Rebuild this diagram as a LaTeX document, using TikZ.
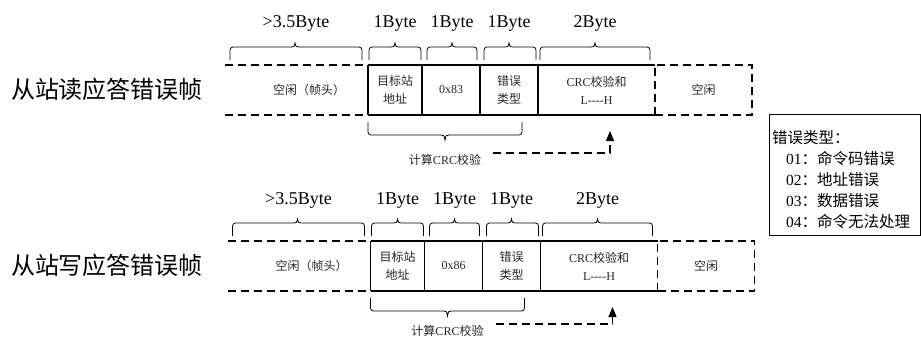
\documentclass[tikz,border=0pt]{standalone}
\usepackage{fontspec}
\setmainfont{Liberation Serif}
\newfontfamily\cjk{Noto Sans CJK SC}
\usetikzlibrary{arrows.meta}

\newcommand\upbrace[3]{%
  \draw[brc, rounded corners=3pt] (#1,60) -- (#1,47) -- (#3-4,47);
  \draw[brc] (#3-4,47) .. controls (#3-1,47) .. (#3,43) .. controls (#3+1,47) .. (#3+4,47);
  \draw[brc, rounded corners=3pt] (#3+4,47) -- (#2,47) -- (#2,60);}
\newcommand\downbrace[3]{%
  \draw[brc, rounded corners=3pt] (#1,122) -- (#1,135) -- (#3-4,135);
  \draw[brc] (#3-4,135) .. controls (#3-1,135) .. (#3,140) .. controls (#3+1,135) .. (#3+4,135);
  \draw[brc, rounded corners=3pt] (#3+4,135) -- (#2,135) -- (#2,122);}

\newcommand\frameRow[5]{%
\begin{scope}[shift={(#3,#4)}]
  % geometry nodes
  \node[fieldbox, minimum width=143pt] (head#1) at (296.5,90) {};
  \node[fieldbox, minimum width=54pt] (addr#1) at (395,90) {};
  \node[fieldbox, minimum width=58pt] (func#1) at (451,90) {};
  \node[fieldbox, minimum width=58pt] (err#1) at (509,90) {};
  \node[fieldbox, minimum width=117pt] (crc#1) at (596.5,90) {};
  \node[fieldbox, minimum width=97pt, draw, dashln] (idle#1) at (703.5,90) {};
  % texts
  \node[fieldtxt] (headt#1) at (309,90) {{\cjk 空闲（帧头）}};
  \node[fieldtxt] at (addr#1) {{\cjk 目标站}\\{\cjk 地址}};
  \node[fieldtxt] at (func#1) {#2};
  \node[fieldtxt] at (err#1) {{\cjk 错误}\\{\cjk 类型}};
  \node[fieldtxt] at (crc#1) {CRC{\cjk 校验和}\\L{-}{-}{-}{-}H};
  \node[fieldtxt] at (idle#1) {{\cjk 空闲}};
  % outlines
  \draw[dashln] (head#1.north west) -- (head#1.north east);
  \draw[dashln] (head#1.south west) -- (head#1.south east);
  \draw[solidln] (addr#1.north west) -- (crc#1.north east);
  \draw[solidln] (addr#1.south west) -- (crc#1.south east);
  \draw[solidln] (addr#1.north west) -- (addr#1.south west);
  \draw[solidln] (func#1.north west) -- (func#1.south west);
  \draw[solidln] (err#1.north west) -- (err#1.south west);
  \draw[solidln] (crc#1.north west) -- (crc#1.south west);
  % byte labels
  \node[bytelab] (lh#1) at (296,28) {>3.5Byte};
  \node[bytelab] (la#1) at (395,28) {1Byte};
  \node[bytelab] (lf#1) at (452,28) {1Byte};
  \node[bytelab] (le#1) at (509,28) {1Byte};
  \node[bytelab] (lc#1) at (595,28) {2Byte};
  % braces
  \upbrace{230}{362}{295}
  \upbrace{369}{421}{395}
  \upbrace{427}{477}{452}
  \upbrace{484}{536}{509}
  \upbrace{540}{650}{595}
  \downbrace{368}{522}{445}
  % crc label and arrow
  \node[fieldtxt] (calc#1) at (445,160-#5) {{\cjk 计算}CRC{\cjk 校验}};
  \coordinate (arrs#1) at (493,153-#5);
  \coordinate (tip#1) at (610,131);
  \draw[dashln, -{Triangle[length=10pt,width=8pt]}] (arrs#1) -| (tip#1);
\end{scope}}

\begin{document}
\begin{tikzpicture}[x=1pt,y=-1pt,
  solidln/.style={line width=1.1pt},
  dashln/.style={line width=1.1pt, dash pattern=on 8pt off 5pt},
  fieldbox/.style={minimum height=50pt, inner sep=0pt, outer sep=0pt},
  fieldtxt/.style={font=\fontsize{12}{18}\selectfont, align=center, inner sep=0pt, text=black!85},
  bytelab/.style={font=\fontsize{18}{20}\selectfont, anchor=base, inner sep=0pt},
  titletxt/.style={font=\cjk\fontsize{24}{28}\selectfont, inner sep=0pt},
  brc/.style={line width=0.8pt},
]
\useasboundingbox (0,0) rectangle (921,337);

\node[titletxt] (title1) at (107,89) {从站读应答错误帧};
\node[titletxt] (title2) at (107,265) {从站写应答错误帧};

\frameRow{a}{0x83}{0}{0}{0}
\frameRow{b}{0x86}{2.5}{176}{5}

\node[draw, line width=0.9pt, minimum width=151pt, minimum height=121pt, inner sep=0pt] (errbox) at (844.5,174.5) {};
\node[anchor=west, align=left, font=\fontsize{15.5}{21}\selectfont, inner sep=0pt] (errtxt) at (772,180)
  {{\cjk 错误类型：}\\
   \hspace*{14pt}01{\cjk ：命令码错误}\\
   \hspace*{14pt}02{\cjk ：地址错误}\\
   \hspace*{14pt}03{\cjk ：数据错误}\\
   \hspace*{14pt}04{\cjk ：命令无法处理}};
\end{tikzpicture}
\end{document}
